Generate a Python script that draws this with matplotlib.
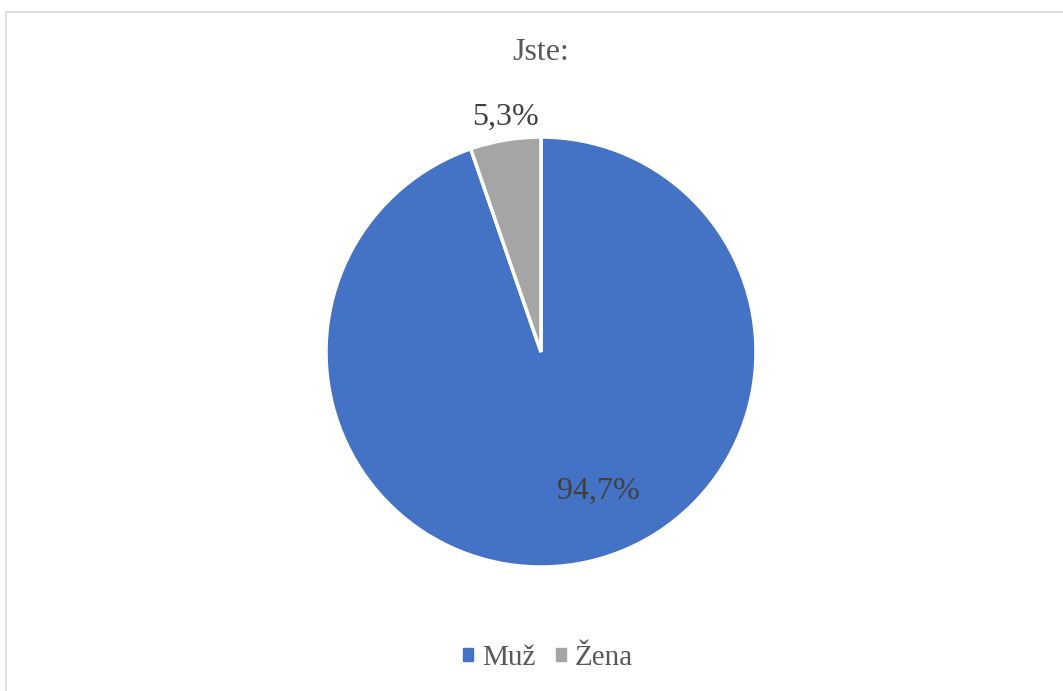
import matplotlib.pyplot as plt
from matplotlib.patches import Rectangle

# data
labels = ["Muž", "Žena"]
values = [94.7, 5.3]
colors = ["#4472C4", "#A5A5A5"]
pct_text = ["94,7%", "5,3%"]
title = "Jste:"

W, H = 1063, 691
plt.rcParams["font.family"] = ["Liberation Serif", "DejaVu Serif"]
text_col = "#595959"

fig = plt.figure(figsize=(W / 100, H / 100), dpi=100)
fig.patch.set_facecolor("white")

# outer chart border (cut on right/bottom)
fig.patches.append(Rectangle((6 / W, -0.05), 1.1, 1 - 12 / H + 0.05,
                             transform=fig.transFigure, fill=False,
                             edgecolor="#D9D9D9", linewidth=1.2))

cx, cy, r = 541, 352, 215
ax = fig.add_axes([(cx - r) / W, 1 - (cy + r) / H, 2 * r / W, 2 * r / H])
wedges, _ = ax.pie(values, colors=colors, startangle=90, counterclock=False,
                   radius=1.0,
                   wedgeprops=dict(edgecolor="white", linewidth=2.5))
ax.set_xlim(-1, 1)
ax.set_ylim(-1, 1)
ax.set_aspect("equal")
ax.axis("off")

# data labels
ax.text(0.265, -0.65, pct_text[0], ha="center", va="center",
        fontsize=23, color="#404040")
ax.text(-0.167, 1.09, pct_text[1], ha="center", va="center",
        fontsize=23, color="#404040")

fig.text(cx / W, 1 - 52 / H, title, ha="center", va="center",
         fontsize=23, color=text_col)

handles = [Rectangle((0, 0), 1, 1, color=c) for c in colors]
fig.legend(handles, labels, loc="center", bbox_to_anchor=(548 / W, 1 - 658 / H),
           ncol=2, frameon=False, fontsize=21, labelcolor=text_col,
           handlelength=0.34, handleheight=0.34, handletextpad=0.3,
           columnspacing=0.7)

fig.savefig("out.png", dpi=100)
